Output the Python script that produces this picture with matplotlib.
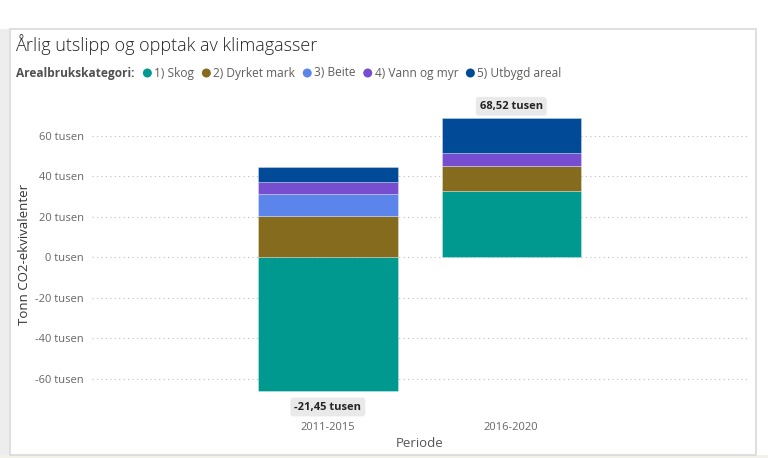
import matplotlib
matplotlib.use("Agg")
import matplotlib.pyplot as plt
from matplotlib.patches import Rectangle, Circle
from matplotlib.ticker import FuncFormatter, FixedLocator

plt.rcParams['font.family'] = ['Open Sans', 'DejaVu Sans']

# ---- data (tusen tonn CO2-ekvivalenter) ----
periods = ["2011-2015", "2016-2020"]
categories = ["1) Skog", "2) Dyrket mark", "3) Beite", "4) Vann og myr", "5) Utbygd areal"]
skog = [-66.05, 32.40]
dyrket = [20.40, 12.30]
beite = [10.60, 0.40]
vann = [5.80, 6.40]
utbygd = [7.80, 17.02]
yticks = [-60, -40, -20, 0, 20, 40, 60]
colors = ["#00998F", "#846B1E", "#5B85EB", "#764ECF", "#014A97"]

series = [skog, dyrket, beite, vann, utbygd]

W, H = 768, 458
fig = plt.figure(figsize=(W / 100, H / 100), dpi=100)
fig.patch.set_facecolor("#FFFFFF")

def fx(px):
    return px / W

def fy(py):
    return 1 - py / H

# background frame like a report canvas
fig.patches.append(Rectangle((0, 0), fx(9), 1 - 29 / H, transform=fig.transFigure,
                             facecolor="#EDEDED", edgecolor="none", zorder=-3))
fig.patches.append(Rectangle((0, 0), 1, fy(455), transform=fig.transFigure,
                             facecolor="#F3F1EA", edgecolor="none", zorder=-3))
fig.patches.append(Rectangle((fx(10), fy(455)), fx(756) - fx(10), fy(29) - fy(455),
                             transform=fig.transFigure, facecolor="white",
                             edgecolor="#D9D9D9", linewidth=1.2, zorder=-2))

ax = fig.add_axes([fx(92), fy(400), fx(748) - fx(92), fy(95) - fy(400)])
ax.set_facecolor("none")
ax.set_zorder(2)

x = list(range(len(periods)))
pos_bottom = [0.0] * len(periods)
neg_bottom = [0.0] * len(periods)
for vals, col in zip(series, colors):
    bottoms = []
    for i, v in enumerate(vals):
        if v >= 0:
            bottoms.append(pos_bottom[i])
            pos_bottom[i] += v
        else:
            bottoms.append(neg_bottom[i])
            neg_bottom[i] += v
    ax.bar(x, vals, bottom=bottoms, width=0.76, color=col,
           edgecolor=(1, 1, 1, 0.35), linewidth=0.6, zorder=3)

ax.set_xlim(-1.286, 2.291)
ax.set_ylim(-70.6, 80)
ax.yaxis.set_major_locator(FixedLocator(yticks))
ax.yaxis.set_major_formatter(FuncFormatter(lambda v, p: f"{v:.0f} tusen"))
ax.grid(axis="y", linestyle=(0, (1, 3)), color="#BDBDBD", linewidth=0.8, zorder=0)
for s in ax.spines.values():
    s.set_visible(False)
ax.tick_params(axis="y", length=0, pad=6, labelsize=8, labelcolor="#666666")
ax.tick_params(axis="x", length=0, pad=16, labelsize=8, labelcolor="#666666")
ax.set_xticks(x)
ax.set_xticklabels(periods)
ax.set_xlabel("Periode", fontsize=9.5, color="#555555", labelpad=3)
ax.set_ylabel("Tonn CO2-ekvivalenter", fontsize=9.5, color="#333333")
ax.yaxis.set_label_coords(-0.093, 0.477)

# totals
for i in x:
    total = sum(s[i] for s in series)
    txt = f"{total:.2f}".replace(".", ",") + " tusen"
    if total >= 0:
        yy, va = pos_bottom[i] + 3.2, "bottom"
    else:
        yy, va = neg_bottom[i] - 5.3, "top"
    ax.text(i, yy, txt, ha="center", va=va, fontsize=8, fontweight="bold", color="#252423",
            bbox=dict(boxstyle="round,pad=0.35,rounding_size=0.3", facecolor="#E9E9E9",
                      edgecolor="none"), zorder=5)

# title
fig.text(fx(15), fy(45), "Årlig utslipp og opptak av klimagasser", fontsize=13,
         color="#252423", ha="left", va="center", fontweight="light")

# legend (laid out sequentially)
fig.canvas.draw()
renderer = fig.canvas.get_renderer()
ly = fy(73)
head = fig.text(fx(16), ly, "Arealbrukskategori:", fontsize=8.6, fontweight="bold",
                color="#505050", ha="left", va="center")
bb = head.get_window_extent(renderer)
cur = bb.x1 + 13
for name, col in zip(categories, colors):
    c = Circle((cur / 100, (H - 73) / 100), 0.045, transform=fig.dpi_scale_trans,
               facecolor=col, edgecolor="none")
    fig.patches.append(c)
    t = fig.text(fx(cur + 7), ly, name, fontsize=8.6, color="#605E5C", ha="left", va="center")
    tb = t.get_window_extent(renderer)
    cur = tb.x1 + 12

fig.savefig("out.png", dpi=100)
